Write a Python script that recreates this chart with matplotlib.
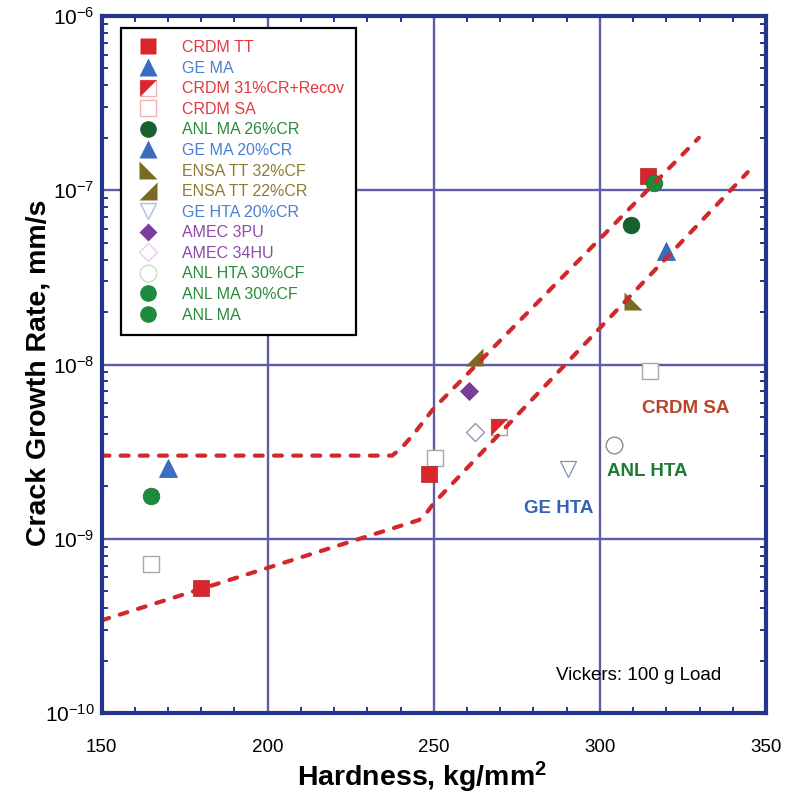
import matplotlib
matplotlib.use("Agg")
import matplotlib.pyplot as plt
from matplotlib.lines import Line2D
from matplotlib.ticker import MultipleLocator, LogLocator, NullFormatter, FixedLocator

plt.rcParams['font.family'] = ['Liberation Sans', 'DejaVu Sans']
plt.rcParams['mathtext.fontset'] = 'custom'
plt.rcParams['mathtext.rm'] = 'Liberation Sans'
plt.rcParams['mathtext.bf'] = 'Liberation Sans:bold'
plt.rcParams['mathtext.it'] = 'Liberation Sans:italic'
plt.rcParams['axes.unicode_minus'] = False

# ---- data: Vickers hardness (kg/mm^2) vs crack growth rate (mm/s) ----
crdm_tt_hv = [180, 248.5, 314.5]
crdm_tt_cgr = [5.2e-10, 2.35e-9, 1.2e-7]
ge_ma_hv = [170]
ge_ma_cgr = [2.55e-9]
crdm_31cr_hv = [269.5]
crdm_31cr_cgr = [4.4e-9]
crdm_sa_hv = [165, 250.5, 315]
crdm_sa_cgr = [7.2e-10, 2.9e-9, 9.2e-9]
anl_ma26_hv = [309.3]
anl_ma26_cgr = [6.3e-8]
ge_ma20_hv = [320]
ge_ma20_cgr = [4.5e-8]
ensa_32cf_hv = [310]
ensa_32cf_cgr = [2.3e-8]
ensa_22cr_hv = [262]
ensa_22cr_cgr = [1.1e-8]
ge_hta_hv = [290.5]
ge_hta_cgr = [2.5e-9]
amec_3pu_hv = [260.5]
amec_3pu_cgr = [7.0e-9]
amec_34hu_hv = [262.3]
amec_34hu_cgr = [4.1e-9]
anl_hta_hv = [304.3]
anl_hta_cgr = [3.45e-9]
anl_ma30_hv = [316.3]
anl_ma30_cgr = [1.1e-7]
anl_ma_hv = [165]
anl_ma_cgr = [1.76e-9]

# bounding trend lines
upper_hv = [150, 237.5, 240.5, 244, 250, 329.8]
upper_cgr = [3.0e-9, 3.0e-9, 3.35e-9, 4.0e-9, 5.6e-9, 2.0e-7]
lower_hv = [150, 245.5, 247.5, 250, 344.5]
lower_cgr = [3.4e-10, 1.28e-9, 1.38e-9, 1.6e-9, 1.27e-7]

x_ticks = [150, 200, 250, 300, 350]

# ---- colours ----
RED = '#d8262c'
BLUE = '#3b6cc2'
DKGREEN = '#17612e'
GREEN = '#1e8a3e'
OLIVE = '#7c6a22'
PURPLE = '#7a3d9e'
NAVY = '#27348f'
GRID = '#5c5cab'
DASH = '#d0282b'

TXT_RED = '#e03a3f'
TXT_BLUE = '#4a7fd2'
TXT_GREEN = '#2b8a3c'
TXT_OLIVE = '#8d7b32'
TXT_PURPLE = '#8d49ab'

# custom marker shapes
half_sq = [(-1, 1), (1, 1), (-1, -1)]
tri_ll = [(-1, 1), (-1, -1), (1, -1)]
tri_lr = [(1, 1), (1, -1), (-1, -1)]

fig = plt.figure(figsize=(7.88, 7.98), dpi=100)
ax = fig.add_axes([101.5 / 788, 1 - 713 / 798, 664.5 / 788, 697 / 798])
ax.set_yscale('log')
ax.set_xlim(150, 350)
ax.set_ylim(1e-10, 1e-6)

MS = 12

def pts(x, y, marker, fc, ec='none', ms=MS, mew=1.0, z=3):
    ax.plot(x, y, ls='none', marker=marker, ms=ms, mfc=fc, mec=ec, mew=mew, zorder=z)

pts(crdm_sa_hv, crdm_sa_cgr, 's', 'white', '#a8a8a8', mew=1.0)
pts(anl_hta_hv, anl_hta_cgr, 'o', 'white', '#8c8c8c', mew=1.0)
pts(amec_34hu_hv, amec_34hu_cgr, 'D', 'white', '#9a92ae', ms=9.5, mew=1.0)
pts(ge_hta_hv, ge_hta_cgr, 'v', 'white', '#8690b4', mew=0.9)
pts(crdm_31cr_hv, crdm_31cr_cgr, 's', 'white', '#a0a0a0', mew=1.0)
pts(crdm_31cr_hv, crdm_31cr_cgr, half_sq, RED, 'none')
pts(crdm_tt_hv, crdm_tt_cgr, 's', RED, '#b82024', mew=0.5)
pts(ge_ma_hv, ge_ma_cgr, '^', BLUE, '#2f5aa6', ms=12.5, mew=0.5)
pts(ge_ma20_hv, ge_ma20_cgr, '^', BLUE, '#2f5aa6', ms=12.5, mew=0.5)
pts(anl_ma26_hv, anl_ma26_cgr, 'o', DKGREEN, '#124f25', mew=0.5)
pts(ensa_32cf_hv, ensa_32cf_cgr, tri_ll, OLIVE, 'none', ms=13)
pts(ensa_22cr_hv, ensa_22cr_cgr, tri_lr, OLIVE, 'none', ms=13)
pts(amec_3pu_hv, amec_3pu_cgr, 'D', PURPLE, '#65308a', ms=9.5, mew=0.5)
pts(anl_ma_hv, anl_ma_cgr, 'o', GREEN, '#17703a', mew=0.5)
pts(anl_ma30_hv, anl_ma30_cgr, 'o', GREEN, '#17703a', mew=0.5, z=4)

dash = (0, (1.9, 2.7))
for hv, cgr in ((upper_hv, upper_cgr), (lower_hv, lower_cgr)):
    ax.plot(hv, cgr, color=DASH, lw=3.0, ls=dash, dash_capstyle='round',
            solid_joinstyle='round', zorder=5)

# axes styling
ax.set_axisbelow(True)
ax.xaxis.set_major_locator(FixedLocator(x_ticks))
ax.xaxis.set_minor_locator(MultipleLocator(10))
ax.yaxis.set_major_locator(LogLocator(base=10, numticks=10))
ax.yaxis.set_minor_locator(LogLocator(base=10, subs=range(2, 10), numticks=20))
ax.yaxis.set_minor_formatter(NullFormatter())
ax.grid(True, which='major', color=GRID, lw=1.7, zorder=1)
for s in ax.spines.values():
    s.set_color(NAVY)
    s.set_linewidth(3.0)
    s.set_zorder(6)
ax.tick_params(which='both', direction='in', top=True, right=True, color=NAVY)
ax.tick_params(which='major', length=0)
ax.tick_params(which='minor', length=4, width=1.4)
ax.tick_params(axis='x', which='major', pad=19, labelsize=13.5)
ax.tick_params(axis='y', which='major', pad=5, labelsize=15)

# annotations
ax.text(312.7, 5.6e-9, 'CRDM SA', color='#b9442c', fontsize=13.5,
        fontweight='bold', ha='left', va='center')
ax.text(302.2, 2.42e-9, 'ANL HTA', color='#1f7a36', fontsize=13.5,
        fontweight='bold', ha='left', va='center')
ax.text(277.3, 1.49e-9, 'GE HTA', color='#3562b2', fontsize=13.5,
        fontweight='bold', ha='left', va='center')
ax.text(336.5, 1.64e-10, 'Vickers: 100 g Load', color='black',
        fontsize=13.5, ha='right', va='center')

fig.text(39 / 788, 1 - 373 / 798, 'Crack Growth Rate, mm/s', rotation=90,
         ha='center', va='center', fontsize=20.5, fontweight='bold')
fig.text(422 / 788, 1 - 777 / 798, r'Hardness, kg/mm$^{\mathbf{2}}$',
         ha='center', va='center', fontsize=20.5, fontweight='bold')

# legend
def h(marker, fc, ec='none', ms=MS, mew=1.0):
    return Line2D([], [], ls='none', marker=marker, ms=ms, mfc=fc, mec=ec, mew=mew)

handles = [
    h('s', RED),
    h('^', BLUE, ms=12.5),
    (h('s', 'white', '#f2b4b6', mew=1.0), h(half_sq, RED)),
    h('s', 'white', '#f2b4b6', mew=1.0),
    h('o', DKGREEN),
    h('^', BLUE, ms=12.5),
    h(tri_ll, OLIVE, ms=13),
    h(tri_lr, OLIVE, ms=13),
    h('v', 'white', '#a7c0ea', mew=1.0),
    h('D', PURPLE, ms=9.5),
    h('D', 'white', '#ecc9ec', ms=9.5, mew=1.0),
    h('o', 'white', '#c0e4c0', mew=1.0),
    h('o', GREEN),
    h('o', GREEN),
]
labels = ['CRDM TT', 'GE MA', 'CRDM 31%CR+Recov', 'CRDM SA', 'ANL MA 26%CR',
          'GE MA 20%CR', 'ENSA TT 32%CF', 'ENSA TT 22%CR', 'GE HTA 20%CR',
          'AMEC 3PU', 'AMEC 34HU', 'ANL HTA 30%CF', 'ANL MA 30%CF', 'ANL MA']
label_colors = [TXT_RED, TXT_BLUE, TXT_RED, TXT_RED, TXT_GREEN, TXT_BLUE,
                TXT_OLIVE, TXT_OLIVE, TXT_BLUE, TXT_PURPLE, TXT_PURPLE,
                TXT_GREEN, TXT_GREEN, TXT_GREEN]

leg = ax.legend(handles, labels, loc='upper left',
                bbox_to_anchor=((121 - 101.5) / 664.5, 1 - (28 - 16) / 697),
                borderaxespad=0, fontsize=11.5, labelcolor=label_colors,
                frameon=True, fancybox=False, framealpha=1, edgecolor='black',
                borderpad=0.75, handlelength=1.9, handletextpad=1.2,
                labelspacing=0.35, numpoints=1)
leg.get_frame().set_linewidth(1.6)
leg.set_zorder(7)

fig.savefig('out.png', dpi=100)
